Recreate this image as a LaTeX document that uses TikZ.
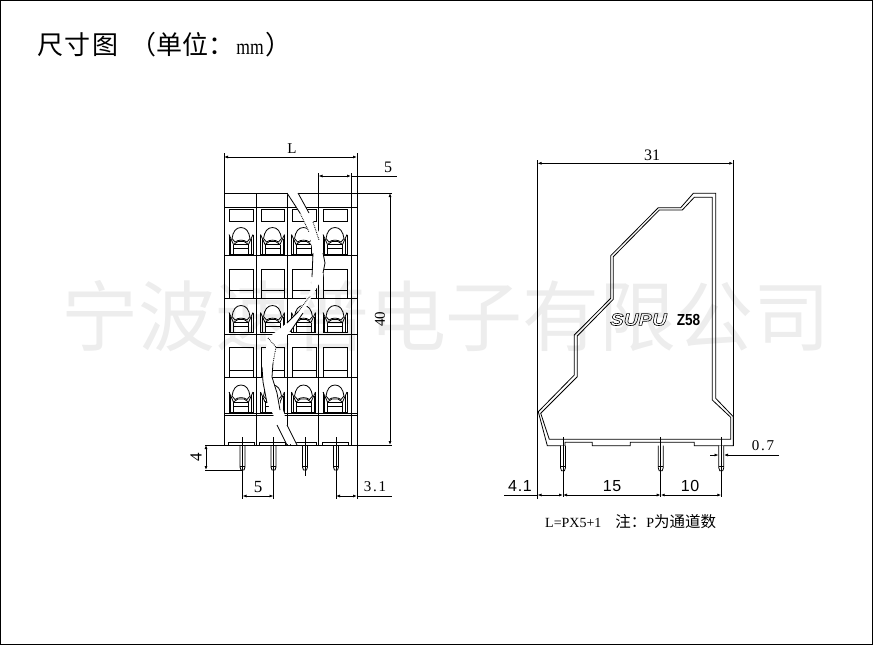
\documentclass[tikz,border=0pt]{standalone}
\usepackage{fontspec}
\setmainfont{Liberation Serif}
\newfontfamily\cjk{Noto Sans CJK SC}
\newfontfamily\cjktitle[LetterSpace=6]{Noto Sans CJK SC}
\newfontfamily\titlemm[FakeStretch=0.8]{Liberation Serif}
\newfontfamily\dimwide[LetterSpace=12]{Liberation Serif}
\newfontfamily\dimsans[LetterSpace=4]{Liberation Sans}
\newfontfamily\logosans[FakeStretch=1.2]{Liberation Sans}
\newfontfamily\modelsans[FakeStretch=0.85]{Liberation Sans}
\usetikzlibrary{arrows.meta}
\definecolor{MarkGray}{HTML}{EDEDED}
\begin{document}
\begin{tikzpicture}[
            x=1pt, y=-1pt,
            part/.style={line width=0.8pt, black},
            ext/.style={line width=0.7pt, black},
            dimline/.style={line width=0.8pt, black, {Latex[length=4pt,width=3pt]}-{Latex[length=4pt,width=3pt]}},
            dimtext/.style={inner sep=0pt, font=\fontsize{15}{15}\selectfont},
            widetext/.style={inner sep=0pt, font=\dimwide\fontsize{15}{15}\selectfont},
            sanstext/.style={inner sep=0pt, font=\dimsans\fontsize{16}{16}\selectfont},
            clamp/.pic={
                \draw[part] (-12,-20) -- (-12,0) -- (12,0) -- (12,-20);
                \draw[part] (-10.5,-16) -- (-10.5,0) (10.5,-16) -- (10.5,0);
                \draw[part] (-12,-20) -- (-7.5,-10) (12,-20) -- (7.5,-10);
                \draw[part] (-9,-16) .. controls (-8,-23) and (-5,-27) .. (0,-27) .. controls (5,-27) and (8,-23) .. (9,-16);
                \draw[part] (-9,-16) -- (-6,-12.5) .. controls (-3,-15) and (3,-15) .. (6,-12.5) -- (9,-16);
                \draw[part] (-7.5,-10) -- (-3,-13) -- (3,-13) -- (7.5,-10);
                \draw[part] (-7.5,-10) -- (7.5,-10) (-7.5,-6) -- (7.5,-6);
                \draw[part] (-7.5,-10) -- (-7.5,0) (7.5,-10) -- (7.5,0);
            },
            pinleg/.pic={
                \draw[part, fill=white] (-2.5,0) -- (-2.5,22) -- (-1.5,25) -- (1.5,25) -- (2.5,22) -- (2.5,0);
                \draw[part] (-2.5,21) -- (2.5,21);
            }
        ]
            \useasboundingbox (0,0) rectangle (873,645);
            \draw[line width=1.6pt] (0.5,0.5) rectangle (872.5,644.5);

            % Watermark
            \node[MarkGray, inner sep=0pt, font=\cjk\fontsize{77}{77}\selectfont] (mark) at (446,316) {宁波速普电子有限公司};

            % Title
            \node[anchor=west, inner sep=0pt, font=\fontsize{26}{28}\selectfont] (title) at (37,45) {\cjktitle 尺寸图\hspace{12pt}\cjk（单位：\hspace{2pt}\titlemm\fontsize{22}{24}\selectfont mm\cjk\fontsize{26}{28}\selectfont\hspace{2pt}）};

            % Front view, body
            \draw[part] (224,193) -- (287,193) (298,193) -- (357,193);
            \foreach \y in {207,255,298,334,377,413,415}
                \draw[part] (224,\y) -- (357,\y);
            \foreach \x in {224,256,287,318.5}
                \draw[part] (\x,193) -- (\x,445);
            \draw[part] (224,445) -- (357,445);

            % Front view, windows
            \foreach \x/\w in {229/24,261/23,292/24,323/24} {
                \draw[part] (\x,209) rectangle ++(\w,12);
                \draw[part] (\x,298) -- (\x,269) -- ++(\w,0) -- ++(0,29);
                \draw[part] (\x,290) -- ++(\w,0);
                \draw[part] (\x,377) -- (\x,347) -- ++(\w,0) -- ++(0,30);
                \draw[part] (\x,370) -- ++(\w,0);
            }

            % Front view, clamps and pads
            \foreach \x in {241,272.5,303.5,335} {
                \pic at (\x,254.5) {clamp};
                \pic at (\x,332.5) {clamp};
                \pic at (\x,412) {clamp};
                \draw[part] (\x-13,445) -- (\x-13,442) -- (\x+13,442) -- (\x+13,445);
            }

            % Front view, pins
            \foreach \x in {242.5,273.5,305,336} {
                \pic at (\x,445) {pinleg};
                \draw[ext] (\x,437) -- (\x,471);
            }
            \draw[ext] (305,471) -- (305,476);

            % Break line
            \fill[white] (287,193.5) -- (299,193.5) -- (309,213) -- (319,232) -- (325,263) -- (323,277) -- (312,296) -- (303,313) -- (290,332) -- (276,347) -- (273,363) -- (272,377) -- (277,393) -- (284,413) -- (287,425) -- (297,444) -- (287,444) -- (277,425) -- (273,414) -- (267,403) -- (263,382) -- (262,367) -- (268,338) -- (287,323) -- (298,312) -- (310,292) -- (313,277) -- (313,253) -- (309,232) -- (300,213) -- cycle;
            \draw[part] (287,193) -- (300,213) (298,193) -- (309,213);
            \draw[part] (313,253) -- (312,277) (323,253) -- (325,263) -- (323,273);
            \draw[part] (287,323) -- (298,312) (290,332) -- (303,313);
            \draw[part] (262,367) -- (263,382) -- (267,403) (273,363) -- (272,377) -- (277,393) -- (280,410);
            \draw[part] (277,425) -- (287,445) (287,425) -- (297,445);
            \draw[part, densely dotted] (300,213) -- (309,232) (313,222) -- (319,240);
            \draw[part, densely dotted] (298,312) -- (310,296) (268,338) -- (276,347) -- (273,363);

            % Front view, dimensions
            \draw[ext] (224,153) -- (224,193) (357,153) -- (357,499);
            \draw[dimline] (224,157) -- (357,157);
            \node[dimtext] (lenL) at (292,149) {L};
            \draw[ext] (318.5,173) -- (318.5,193) (351,173) -- (351,445);
            \draw[dimline] (318.5,176) -- (351,176);
            \draw[ext] (351,176) -- (397,176);
            \node[dimtext, font=\fontsize{16}{16}\selectfont] (pitchtop) at (388,167) {5};
            \draw[ext] (299,193) -- (392,193) (205,445) -- (392,445);
            \draw[dimline] (390,193) -- (390,445);
            \node[dimtext, rotate=90] (height) at (380,319) {40};
            \draw[ext] (205,470) -- (242,470);
            \draw[dimline] (206,445) -- (206,470);
            \node[dimtext, rotate=90, font=\fontsize{17}{17}\selectfont] (pinlen) at (196,457) {4};
            \draw[ext] (242.5,470) -- (242.5,499) (273.5,470) -- (273.5,499) (336,470) -- (336,499);
            \draw[dimline] (242.5,496) -- (273.5,496);
            \node[dimtext, font=\fontsize{17}{17}\selectfont] (pitchbot) at (258,487) {5};
            \draw[dimline] (336,496) -- (357,496);
            \draw[ext] (357,496) -- (392,496);
            \node[widetext] (edge) at (375,487) {3.1};

            % Side view, outline
            \draw[part] (715.7,193.3) -- (693.3,193.3) -- (680.7,207.7) -- (658.3,207.7) -- (610.7,255.7) -- (610.7,298.3) -- (574.3,335) -- (574.3,375) -- (538.3,411.7) -- (547.3,445.7) -- (565,445.7) -- (565,442.3) -- (592.3,442.3) -- (592.3,445.7) -- (630.3,445.7) -- (630.3,442.3) -- (694.3,442.3) -- (694.3,445.7) -- (733.3,445.7) -- (733.3,416.7) -- (715.7,398.3) -- cycle;
            \draw[part] (712.3,197.3) -- (694.3,197.3) -- (682.3,210) -- (659.3,210) -- (613.3,256.7) -- (613.3,299.3) -- (577.3,336) -- (577.3,376.7) -- (540.7,413.3) -- (549.3,439.3) -- (730.7,439.3) -- (730.7,417.3) -- (712.3,400) -- cycle;

            % Side view, logo
            \node[inner sep=0pt, font=\logosans\fontsize{17}{17}\selectfont\itshape\bfseries] (logo) at (638.5,319.5) {\special{pdf:code 1 Tr 0.6 w}SUPU\special{pdf:code 0 Tr}};
            \node[inner sep=0pt, font=\modelsans\fontsize{16}{16}\selectfont\bfseries] (model) at (688.5,320) {Z58};

            % Side view, pins
            \foreach \x in {563,660.7,721.3} {
                \pic at (\x,445.7) {pinleg};
                \draw[ext] (\x,437) -- (\x,497);
            }

            % Side view, dimensions
            \draw[ext] (537.5,160) -- (537.5,499) (733.3,160) -- (733.3,445.7);
            \draw[dimline] (537.5,163.3) -- (733.3,163.3);
            \node[dimtext, font=\fontsize{16}{16}\selectfont] (width) at (652,155) {31};
            \draw[ext] (504,495) -- (537.5,495);
            \draw[dimline] (537.5,495) -- (563,495);
            \draw[dimline] (563,495) -- (660.7,495);
            \draw[dimline] (660.7,495) -- (721.3,495);
            \node[sanstext] (offs) at (520,486) {4.1};
            \node[sanstext] (span) at (612,486) {15};
            \node[sanstext] (rest) at (690,486) {10};
            \draw[ext, -{Latex[length=4pt,width=3pt]}] (710,455) -- (718.5,455);
            \draw[ext, -{Latex[length=4pt,width=3pt]}] (779,455) -- (724,455);
            \node[widetext] (thick) at (763,446) {0.7};

            % Note
            \node[anchor=west, inner sep=0pt, font=\fontsize{14}{14}\selectfont] (note) at (545,522) {L=PX5+1\hspace{14pt}\cjk\fontsize{15.5}{16}\selectfont 注：\rmfamily\fontsize{14}{14}\selectfont P\cjk\fontsize{15.5}{16}\selectfont 为通道数};
        \end{tikzpicture}
\end{document}
